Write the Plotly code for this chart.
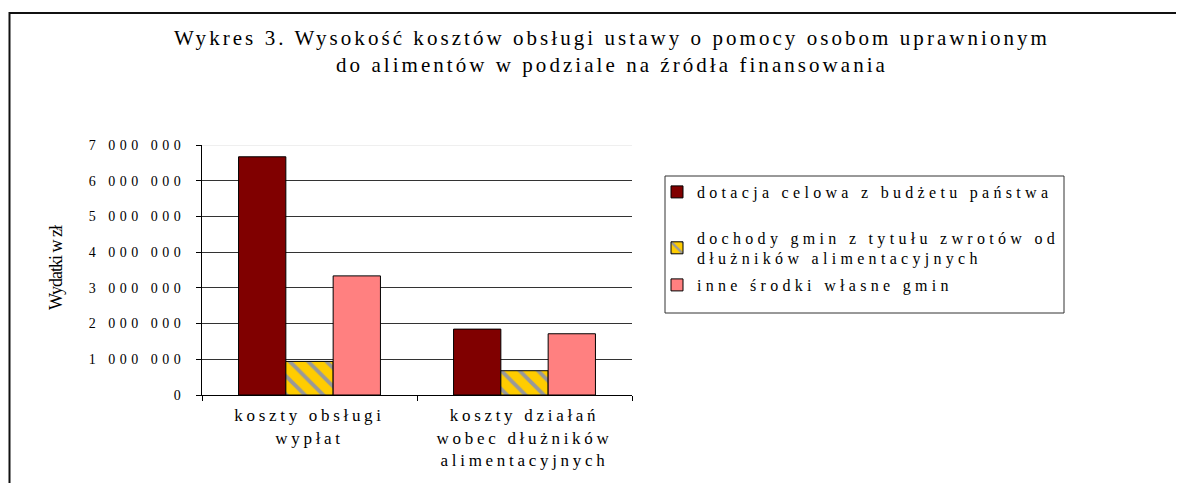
import plotly.graph_objects as go

# ---------------- data ----------------
categories = ["koszty obsługi wypłat", "koszty działań wobec dłużników alimentacyjnych"]
category_lines = [["koszty obsługi", "wypłat"], ["koszty działań", "wobec dłużników", "alimentacyjnych"]]

series_names = [
    "dotacja celowa z budżetu państwa",
    "dochody gmin z tytułu zwrotów od dłużników alimentacyjnych",
    "inne środki własne gmin",
]
series_legend_lines = [
    ["dotacja celowa z budżetu państwa"],
    ["dochody gmin z tytułu zwrotów od", "dłużników alimentacyjnych"],
    ["inne środki własne gmin"],
]
dotacja = [6670000, 1845000]
dochody = [940000, 680000]
inne = [3335000, 1715000]

y_tick_vals = [0, 1000000, 2000000, 3000000, 4000000, 5000000, 6000000, 7000000]
y_tick_labels = ["0", "1 000 000", "2 000 000", "3 000 000", "4 000 000",
                 "5 000 000", "6 000 000", "7 000 000"]

title_lines = ["Wykres 3. Wysokość kosztów obsługi ustawy o pomocy osobom uprawnionym",
               "do alimentów w podziale na źródła finansowania"]
y_title = "Wydatki w zł"

# ---------------- styling ----------------
FONT = "Liberation Serif"
OFF = 8                      # page body margin
W, H = 1184 - OFF, 483 - OFF
PLOT_L, PLOT_R, PLOT_T, PLOT_B = 202, 632, 145, 395   # page pixels
L = PLOT_L - OFF
R = W - (PLOT_R - OFF)
T = PLOT_T - OFF
B = H - (PLOT_B - OFF)
PW, PH = PLOT_R - PLOT_L, PLOT_B - PLOT_T


def px_x(p):
    return (p - PLOT_L) / PW


def px_y(p):
    return (PLOT_B - p) / PH


def spaced(lines, s):
    return "<br>".join(f'<span style="letter-spacing:{s}px">{ln}</span>' for ln in lines)


colors = ["#800000", "#FFCC00", "#FF8080"]
values = [dotacja, dochody, inne]

fig = go.Figure()
legend_ids = ["legend", "legend2", "legend3"]
for i, (name, vals) in enumerate(zip(series_names, values)):
    marker = dict(color=colors[i], line=dict(color="#000000", width=1))
    if i == 1:
        marker["pattern"] = dict(shape="\\", bgcolor="#FFCC00", fgcolor="#999999",
                                 size=13, solidity=0.3, fillmode="replace")
    fig.add_trace(go.Bar(
        x=categories, y=vals,
        name=spaced(series_legend_lines[i], 4.3),
        marker=marker,
        legend=legend_ids[i],
    ))

legend_common = dict(bgcolor="rgba(0,0,0,0)", borderwidth=0,
                     font=dict(family=FONT, size=16, color="#000000"),
                     xanchor="left", yanchor="middle", x=px_x(657),
                     itemclick=False, itemdoubleclick=False)

fig.update_layout(
    width=W, height=H,
    margin=dict(l=L, r=R, t=T, b=B, autoexpand=False),
    paper_bgcolor="white", plot_bgcolor="white",
    barmode="group", bargap=0.34, bargroupgap=0,
    font=dict(family=FONT, color="#000000"),
    showlegend=True,
    legend=dict(**legend_common, y=px_y(192)),
    legend2=dict(**legend_common, y=px_y(248)),
    legend3=dict(**legend_common, y=px_y(285)),
)

fig.update_yaxes(
    range=[0, y_tick_vals[-1]],
    tickmode="array", tickvals=y_tick_vals,
    ticktext=[spaced([t], 4.5) for t in y_tick_labels],
    tickfont=dict(family=FONT, size=14, color="#000000"),
    ticks="outside", ticklen=5, tickcolor="#000000",
    ticklabelstandoff=8,
    showline=True, linecolor="#000000", linewidth=1,
    showgrid=True, gridcolor="#333333", gridwidth=1,
    zeroline=False, fixedrange=True,
)
fig.update_xaxes(
    type="category",
    tickmode="array", tickvals=categories,
    ticktext=[spaced(lines, 3.7) for lines in category_lines],
    tickfont=dict(family=FONT, size=17, color="#000000"),
    ticks="outside", ticklen=5, tickcolor="#000000", tickson="boundaries",
    ticklabelstandoff=5,
    showline=True, linecolor="#000000", linewidth=1,
    showgrid=False, zeroline=False, fixedrange=True,
)

# light top border of plot area at the maximum tick
fig.add_shape(type="line", xref="paper", yref="y", x0=0, x1=1,
              y0=y_tick_vals[-1], y1=y_tick_vals[-1],
              line=dict(color="#E0E0E0", width=1), layer="above")

# legend frame
fig.add_shape(type="rect", xref="paper", yref="paper",
              x0=px_x(665), x1=px_x(1064), y0=px_y(313), y1=px_y(176),
              line=dict(color="#333333", width=1), fillcolor="rgba(0,0,0,0)")

# outer chart frame (left and top edges)
fig.add_shape(type="path", xref="paper", yref="paper",
              path=f"M {px_x(9.5)} {px_y(500)} L {px_x(9.5)} {px_y(13)} L {px_x(1200)} {px_y(13)}",
              line=dict(color="#111111", width=2))

# title
fig.add_annotation(text=spaced(title_lines, 3.05), xref="paper", yref="paper",
                   x=px_x(612), y=px_y(52), xanchor="center", yanchor="middle",
                   showarrow=False, align="center",
                   font=dict(family=FONT, size=21, color="#000000"))

# y-axis title
fig.add_annotation(text=f'<span style="letter-spacing:-1px">{y_title}</span>',
                   xref="paper", yref="paper",
                   x=px_x(56), y=px_y(268), xanchor="center", yanchor="middle",
                   textangle=-90, showarrow=False,
                   font=dict(family=FONT, size=18, color="#000000"))

fig.write_html("out.html")
